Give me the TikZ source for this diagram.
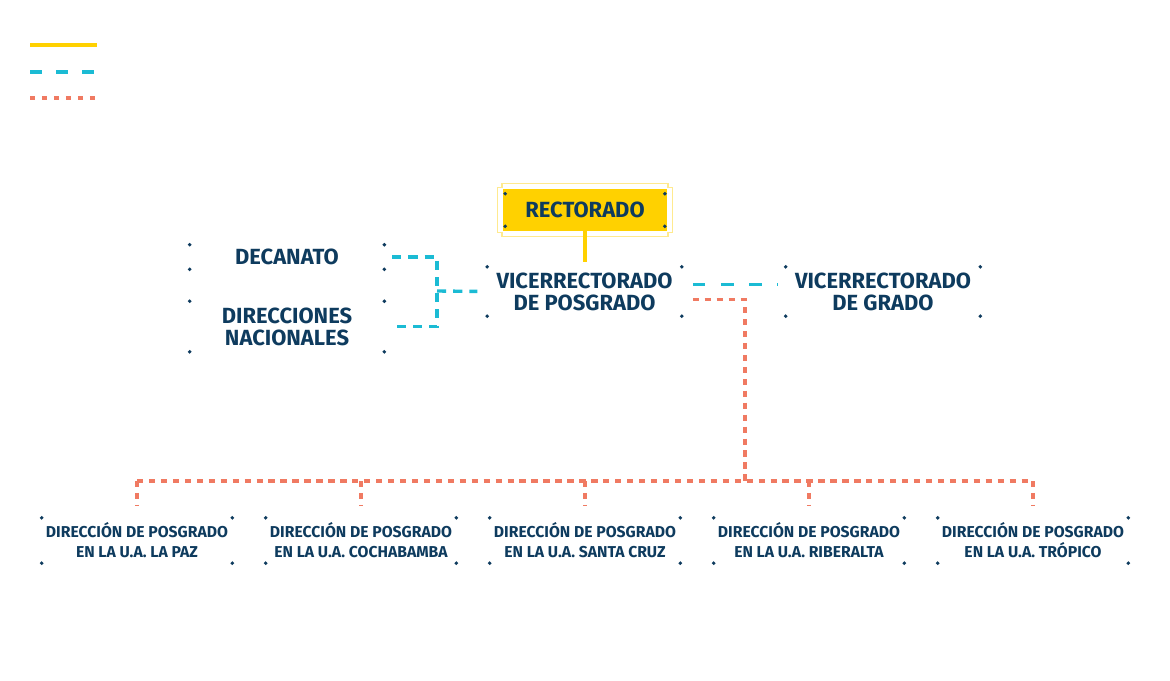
\documentclass[tikz,border=0pt]{standalone}
\usepackage{fontspec}
\setmainfont{Fira Sans}
\usetikzlibrary{calc}
\definecolor{OrgNavy}{HTML}{0E3B5E}
\definecolor{OrgYellow}{HTML}{FFD100}
\definecolor{OrgYellowTint}{HTML}{FFEA8F}
\definecolor{OrgCyan}{HTML}{1BBBD4}
\definecolor{OrgSalmon}{HTML}{F07A62}
\tikzset{
  unitbox/.style={minimum width=4.85cm,minimum height=1.22cm,inner sep=0pt,align=center,text=OrgNavy,font=\fontsize{15.6}{15.6}\selectfont\bfseries},
  smallunit/.style={unitbox,minimum width=4.75cm,minimum height=1.12cm,font=\fontsize{11.2}{14.2}\selectfont\bfseries},
  rectbox/.style={unitbox,fill=OrgYellow,minimum width=4.1cm,minimum height=1.05cm},
  solidlink/.style={draw=OrgYellow,line width=2.4pt},
  dashlink/.style={draw=OrgCyan,line width=2.4pt,dash pattern=on 9pt off 11pt},
  bracketlink/.style={dashlink,dash pattern=on 6.5pt off 5pt},
  dotlink/.style={draw=OrgSalmon,line width=2.4pt,dash pattern=on 4.5pt off 4pt}
}
\begin{document}
\begin{tikzpicture}[x=0.025cm,y=-0.025cm]
  \useasboundingbox (0,0) rectangle (1170,680);

  % legend
  \draw[solidlink] (30,45) -- (97,45);
  \draw[dashlink,dash pattern=on 8.5pt off 10pt] (30,72) -- (97,72);
  \draw[dotlink,dash pattern=on 3.5pt off 5pt] (30,98) -- (97,98);

  % nodes
  \node[rectbox] (rect) at (585,210) {RECTORADO};
  \node[unitbox] (vrpos) at (584.5,291.5) {VICERRECTORADO\\DE POSGRADO};
  \node[unitbox] (vrgrado) at (883,291.5) {VICERRECTORADO\\DE GRADO};
  \node[unitbox,minimum height=0.6cm,text depth=0pt] (decanato) at (287,257) {DECANATO};
  \node[unitbox,minimum height=1.25cm] (direcciones) at (287,326.5) {DIRECCIONES\\NACIONALES};

  \node[smallunit] (ua1) at (137,540.5) {DIRECCIÓN DE POSGRADO\\EN LA U.A. LA PAZ};
  \node[smallunit] (ua2) at (361,540.5) {DIRECCIÓN DE POSGRADO\\EN LA U.A. COCHABAMBA};
  \node[smallunit] (ua3) at (585,540.5) {DIRECCIÓN DE POSGRADO\\EN LA U.A. SANTA CRUZ};
  \node[smallunit] (ua4) at (809,540.5) {DIRECCIÓN DE POSGRADO\\EN LA U.A. RIBERALTA};
  \node[smallunit] (ua5) at (1033,540.5) {DIRECCIÓN DE POSGRADO\\EN LA U.A. TRÓPICO};

  % rectorado frame
  \draw[OrgYellowTint,line width=1pt,shift={(rect.center)}]
    (-83,-26.5) -- (83,-26.5) -- (83,-22.5) -- (87.5,-22.5) -- (87.5,22.5) -- (83,22.5)
    -- (83,26.5) -- (-83,26.5) -- (-83,22.5) -- (-87.5,22.5) -- (-87.5,-22.5) -- (-83,-22.5) -- cycle;
  \foreach \a/\dx/\dy in {north west/2.5/5,north east/-2.5/5,south west/2.5/-5,south east/-2.5/-5}
    \fill[OrgNavy] ($(rect.\a)+(\dx,\dy)$) circle (1.4pt);

  % corner dots
  \foreach \n in {vrpos,vrgrado,decanato,direcciones,ua1,ua2,ua3,ua4,ua5}
    \foreach \a in {north west,north east,south west,south east}
      \fill[OrgNavy] (\n.\a) circle (1.4pt);

  % links
  \coordinate (jdec) at (437,291);
  \coordinate (bus) at (745,481);
  \draw[solidlink,shorten >=3.5pt] (rect.south) -- (rect.south |- vrpos.north);
  \draw[bracketlink,shorten <=5.7pt,shorten >=5.7pt] (decanato.east) -| (jdec) |- (direcciones.east);
  \draw[bracketlink,shorten >=7pt] (jdec) -- (vrpos.west);
  \draw[dashlink,shorten <=7.8pt,shorten >=5.7pt] ([yshift=0.175cm]vrpos.east) -- ([yshift=0.175cm]vrgrado.west);
  \draw[dotlink,shorten <=7.8pt] ([yshift=-0.2cm]vrpos.east) -| (bus);
  \draw[dotlink] (ua1.north |- bus) -- (ua5.north |- bus);
  \foreach \i in {1,...,5}
    \draw[dotlink,shorten >=9pt] (ua\i.north |- bus) -- (ua\i.north);
\end{tikzpicture}
\end{document}
